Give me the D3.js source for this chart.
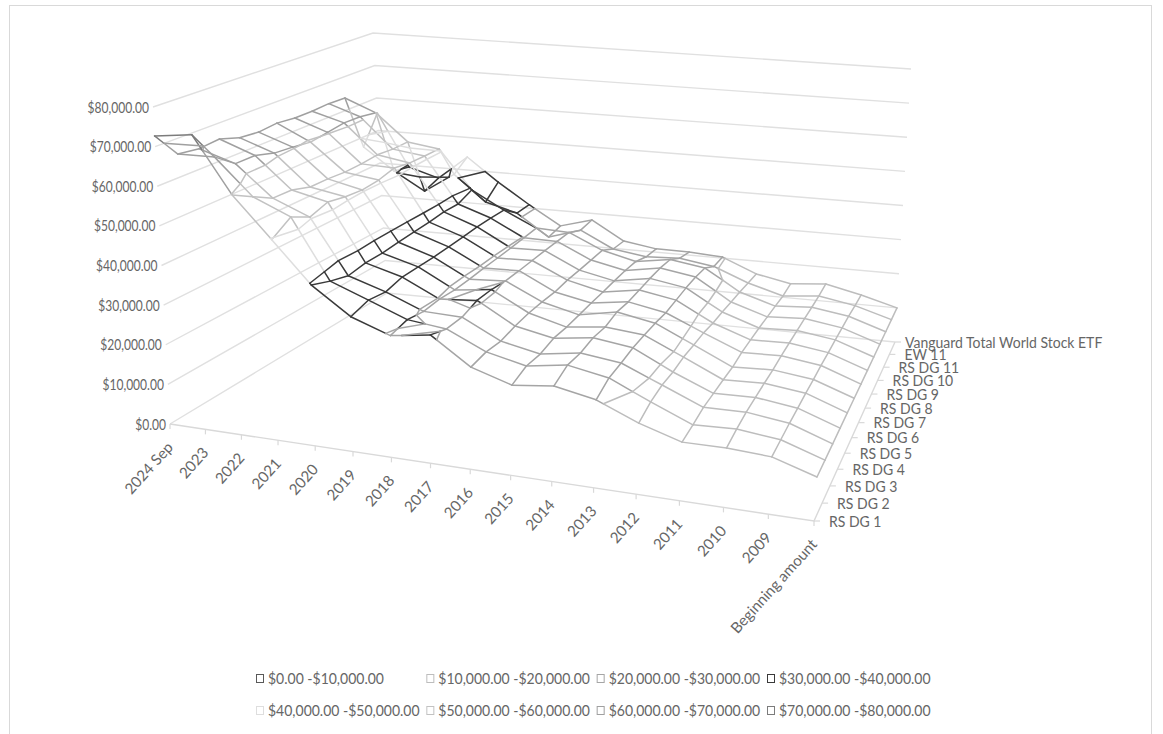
<!DOCTYPE html>
<html>
<head>
<meta charset="utf-8">
<script src="https://cdn.jsdelivr.net/npm/d3@7"></script>
<style>
  html, body { margin: 0; background: #fff; }
  text { font-family: Lato, sans-serif; fill: #666; }
</style>
</head>
<body>
<div id="chart"></div>
<script>
// data
const categories = ['2024 Sep', '2023', '2022', '2021', '2020', '2019', '2018', '2017', '2016', '2015', '2014', '2013', '2012', '2011', '2010', '2009', 'Beginning amount'];
const seriesNames = ['RS DG 1', 'RS DG 2', 'RS DG 3', 'RS DG 4', 'RS DG 5', 'RS DG 6', 'RS DG 7', 'RS DG 8', 'RS DG 9', 'RS DG 10', 'RS DG 11', 'EW 11', 'Vanguard Total World Stock ETF'];

const rsDg1 = [72700, 73900, 59800, 49700, 39600, 33000, 29600, 31000, 24500, 21500, 22600, 20700, 16600, 13600, 13700, 13100, 10000];
const rsDg2 = [66000, 66200, 57000, 52900, 37800, 34200, 30500, 29400, 25000, 22800, 24300, 22500, 18100, 14000, 14400, 13300, 10000];
const rsDg3 = [65300, 62300, 54300, 50400, 36400, 33400, 29600, 29300, 24500, 22500, 24000, 22800, 18700, 14600, 14800, 13500, 10000];
const rsDg4 = [65800, 62300, 54100, 51900, 37000, 34400, 29800, 30600, 25200, 23300, 24600, 23300, 18500, 14500, 14800, 13500, 10000];
const rsDg5 = [64100, 60800, 52600, 50900, 36900, 34300, 29300, 30500, 25500, 23000, 24200, 23300, 18900, 14400, 14800, 13600, 10000];
const rsDg6 = [63600, 60300, 52500, 50400, 37200, 34200, 29300, 29900, 25400, 23100, 25000, 23200, 18700, 14200, 14700, 13500, 10000];
const rsDg7 = [64100, 59600, 52100, 50800, 37400, 34300, 29500, 29800, 25100, 23200, 24600, 22800, 18600, 14600, 14900, 13600, 10000];
const rsDg8 = [63600, 60300, 52200, 51900, 37600, 34400, 29500, 29800, 25400, 23200, 24800, 23100, 18000, 14600, 14900, 13500, 10000];
const rsDg9 = [63600, 61000, 52600, 51100, 38000, 34600, 29600, 29800, 25300, 23300, 25000, 23400, 17800, 14500, 14900, 13500, 10000];
const rsDg10 = [63900, 60800, 52100, 50900, 37800, 34600, 29800, 29700, 25300, 23300, 25000, 23400, 17400, 14300, 14900, 13400, 10000];
const rsDg11 = [63700, 60000, 52100, 50800, 39500, 34400, 30000, 29600, 25300, 23000, 24500, 23000, 17100, 14100, 14800, 13300, 10000];
const ew11 = [47000, 40500, 35200, 41000, 33500, 31000, 24700, 27600, 22900, 21500, 22000, 20500, 16600, 13800, 14800, 13000, 10000];
const vanguard = [55400, 39500, 36800, 44000, 37100, 31000, 25400, 28000, 22500, 21000, 20900, 20300, 16200, 14200, 15100, 12800, 10000];

const valueTicks = [0, 10000, 20000, 30000, 40000, 50000, 60000, 70000, 80000];
const bandLabels = ['$0.00 -$10,000.00', '$10,000.00 -$20,000.00', '$20,000.00 -$30,000.00', '$30,000.00 -$40,000.00', '$40,000.00 -$50,000.00', '$50,000.00 -$60,000.00', '$60,000.00 -$70,000.00', '$70,000.00 -$80,000.00'];
const bandColors = ['#595959', '#bdbdbd', '#a5a5a5', '#3a3a3a', '#dedede', '#c2c2c2', '#a0a0a0', '#7c7c7c'];

const table = [rsDg1, rsDg2, rsDg3, rsDg4, rsDg5, rsDg6, rsDg7, rsDg8, rsDg9, rsDg10, rsDg11, ew11, vanguard];

const width = 1163, height = 734;
const svg = d3.select('#chart').append('svg').attr('width', width).attr('height', height).style('display', 'block');

// chart area border
svg.append('rect')
  .attr('x', 9.5).attr('y', 5.5).attr('width', 1142).attr('height', 740)
  .attr('fill', 'none').attr('stroke', '#d9d9d9');

// 3D box, the corners of the floor and of the top plane as they sit on screen
const floorCorners = { fl: [170, 424], fr: [814, 521], br: [895, 342], bl: [387, 293] };
const topCorners = { fl: [153, 107], fr: [838, 169], br: [911, 69], bl: [373, 33] };

const xScale = d3.scalePoint().domain(categories).range([0, 1]);
const yScale = d3.scalePoint().domain(seriesNames).range([0, 1]);
const zScale = d3.scaleLinear().domain([0, 80000]).range([0, 1]);

// foreshortening along the two floor axes
const warp = (t, k) => t / (k - (k - 1) * t);
const lerp = (a, b, t) => a + (b - a) * t;
const lerp2 = (p, q, t) => [lerp(p[0], q[0], t), lerp(p[1], q[1], t)];

function corner(c, u, v) {
  return lerp2(lerp2(c.fl, c.fr, u), lerp2(c.bl, c.br, u), v);
}

function project(cat, ser, value) {
  const u = warp(xScale(cat), 1.145);
  const v = warp(yScale(ser), 0.82);
  return lerp2(corner(floorCorners, u, v), corner(topCorners, u, v), zScale(value));
}

const line = d3.line();
const band = (val) => Math.min(Math.floor(val / 10000), 7);

// gridlines on the two walls
const firstCat = categories[0], lastCat = categories[categories.length - 1];
const firstSer = seriesNames[0], lastSer = seriesNames[seriesNames.length - 1];

svg.append('g').selectAll('path')
  .data(valueTicks)
  .join('path')
  .attr('d', (d) => line([project(firstCat, firstSer, d), project(firstCat, lastSer, d), project(lastCat, lastSer, d)]))
  .attr('fill', 'none')
  .attr('stroke', '#e0e0e0')
  .attr('stroke-width', 1.4);

// floor axes
svg.append('path')
  .attr('d', line([project(firstCat, firstSer, 0), project(lastCat, firstSer, 0), project(lastCat, lastSer, 0)]))
  .attr('fill', 'none')
  .attr('stroke', '#d9d9d9')
  .attr('stroke-width', 1.4);

const catTicks = svg.append('g').selectAll('g').data(categories).join('g')
  .attr('transform', (d) => {
    const p = project(d, firstSer, 0);
    return `translate(${p[0]}, ${p[1]})`;
  });
catTicks.append('line').attr('y2', 5).attr('stroke', '#d9d9d9').attr('stroke-width', 1.2);
catTicks.append('text')
  .attr('text-anchor', 'end')
  .attr('transform', 'translate(4, 24) rotate(-48) scale(1.08, 1.08)')
  .style('font-size', '14px')
  .text((d) => d);

const serTicks = svg.append('g').selectAll('g').data(seriesNames).join('g')
  .attr('transform', (d) => {
    const p = project(lastCat, d, 0);
    return `translate(${p[0]}, ${p[1]})`;
  });
serTicks.append('line').attr('x2', 6).attr('stroke', '#d9d9d9').attr('stroke-width', 1.2);
serTicks.append('text')
  .attr('transform', (d) => `translate(${d === lastSer ? 10 : 15}, 0) scale(1, 1.14)`)
  .attr('dy', '0.35em')
  .style('font-size', '14px')
  .text((d) => d);

// value labels
svg.append('g').selectAll('text').data(valueTicks).join('text')
  .attr('transform', (d) => {
    const p = project(firstCat, firstSer, d);
    return `translate(${p[0] - 4}, ${p[1]}) scale(0.86, 1.14)`;
  })
  .attr('dy', '0.35em')
  .attr('text-anchor', 'end')
  .style('font-size', '14px')
  .text((d) => d3.format('$,.2f')(d));

// wireframe: every cell edge is cut at the band limits and coloured by band
const segments = [];

function addEdge(i1, j1, i2, j2) {
  const a = table[j1][i1], b = table[j2][i2];
  const pa = project(categories[i1], seriesNames[j1], a);
  const pb = project(categories[i2], seriesNames[j2], b);
  const cuts = [0];
  d3.range(10000, 80000, 10000).forEach((lim) => {
    if ((a - lim) * (b - lim) < 0) cuts.push((lim - a) / (b - a));
  });
  cuts.push(1);
  cuts.sort(d3.ascending);
  d3.pairs(cuts).forEach(([t1, t2]) => {
    segments.push({
      pts: [lerp2(pa, pb, t1), lerp2(pa, pb, t2)],
      band: band(lerp(a, b, (t1 + t2) / 2)),
    });
  });
}

categories.forEach((c, i) => {
  seriesNames.forEach((s, j) => {
    if (i < categories.length - 1) addEdge(i, j, i + 1, j);
    if (j < seriesNames.length - 1) addEdge(i, j, i, j + 1);
  });
});

// the band limits show up as extra lines inside a cell
function addContours(i, j) {
  const corners = [[i, j], [i + 1, j], [i + 1, j + 1], [i, j + 1]].map(([a, b]) => ({
    val: table[b][a],
    p: project(categories[a], seriesNames[b], table[b][a]),
  }));
  d3.range(10000, 80000, 10000).forEach((lim) => {
    const hits = [];
    corners.forEach((c, k) => {
      const n = corners[(k + 1) % 4];
      if ((c.val - lim) * (n.val - lim) < 0) {
        hits.push(lerp2(c.p, n.p, (lim - c.val) / (n.val - c.val)));
      }
    });
    if (hits.length >= 2) segments.push({ pts: [hits[0], hits[1]], band: band(lim - 1) });
    if (hits.length === 4) segments.push({ pts: [hits[2], hits[3]], band: band(lim - 1) });
  });
}

d3.range(categories.length - 1).forEach((i) => {
  d3.range(seriesNames.length - 1).forEach((j) => addContours(i, j));
});

svg.append('g').selectAll('path')
  .data(segments)
  .join('path')
  .attr('d', (d) => line(d.pts))
  .attr('fill', 'none')
  .attr('stroke', (d) => bandColors[d.band])
  .attr('stroke-width', 1.5)
  .attr('stroke-linecap', 'round');

// legend
const legendX = d3.scalePoint().domain(d3.range(4)).range([256, 767]);
const legendY = d3.scalePoint().domain(d3.range(2)).range([678, 710]);

const legend = svg.append('g').selectAll('g').data(bandLabels).join('g')
  .attr('transform', (d, i) => `translate(${legendX(i % 4)}, ${legendY(Math.floor(i / 4))})`);
legend.append('rect')
  .attr('x', 0.5).attr('y', -3.5).attr('width', 7).attr('height', 8)
  .attr('fill', '#fff')
  .attr('stroke', (d, i) => bandColors[i]);
legend.append('text')
  .attr('transform', 'translate(12, 0) scale(1, 1.14)')
  .attr('dy', '0.35em')
  .style('font-size', '14px')
  .text((d) => d);
</script>
</body>
</html>
